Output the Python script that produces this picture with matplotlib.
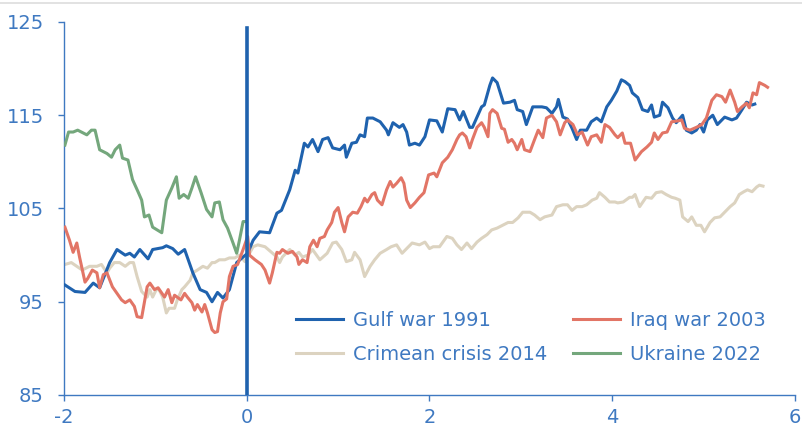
import matplotlib.pyplot as plt
import matplotlib.lines as mlines

# years relative to event, index level
gulf_x = [-1.99, -1.88, -1.77, -1.68, -1.61, -1.50, -1.42, -1.33, -1.28, -1.23, -1.17, -1.08, -1.03,
          -0.92, -0.88, -0.81, -0.75, -0.68, -0.59, -0.51, -0.44, -0.38, -0.32, -0.26, -0.19, -0.11,
          -0.04, 0.01, 0.07, 0.14, 0.25, 0.33, 0.38, 0.47, 0.53, 0.56, 0.63, 0.67, 0.72, 0.78, 0.83,
          0.89, 0.94, 1.02, 1.07, 1.09, 1.15, 1.20, 1.24, 1.29, 1.32, 1.38, 1.46, 1.53, 1.55, 1.60,
          1.67, 1.71, 1.75, 1.78, 1.84, 1.89, 1.95, 2.00, 2.08, 2.14, 2.20, 2.28, 2.33, 2.37, 2.44,
          2.47, 2.52, 2.57, 2.60, 2.66, 2.69, 2.74, 2.81, 2.88, 2.93, 2.96, 3.02, 3.06, 3.13, 3.23,
          3.28, 3.34, 3.39, 3.41, 3.46, 3.51, 3.56, 3.61, 3.65, 3.72, 3.77, 3.83, 3.88, 3.94, 3.99,
          4.05, 4.10, 4.14, 4.19, 4.22, 4.28, 4.33, 4.39, 4.43, 4.46, 4.52, 4.55, 4.61, 4.66, 4.70,
          4.77, 4.81, 4.87, 4.92, 4.96, 5.00, 5.04, 5.10, 5.15, 5.23, 5.31, 5.36, 5.42, 5.47, 5.53, 5.56]
gulf_y = [96.8, 96.1, 96.0, 97.0, 96.5, 99.2, 100.6, 100.0, 100.2, 99.8, 100.6, 99.6, 100.6,
          100.8, 101.0, 100.7, 100.1, 100.6, 98.1, 96.3, 96.0, 95.0, 96.0, 95.4, 96.3, 99.2,
          99.8, 100.2, 101.6, 102.5, 102.4, 104.5, 104.8, 107.0, 109.1, 108.8, 112.0, 111.6, 112.4, 111.1, 112.4,
          112.6, 111.5, 111.3, 111.8, 110.5, 112.0, 112.1, 112.9, 112.7, 114.7, 114.7, 114.3, 113.4, 112.9, 114.2,
          113.7, 114.0, 113.2, 111.8, 112.0, 111.8, 112.7, 114.5, 114.4, 113.2, 115.7, 115.6, 114.5, 115.4, 113.7,
          113.7, 114.8, 115.9, 116.1, 118.2, 119.0, 118.5, 116.3, 116.4, 116.6, 115.6, 115.4, 114.0, 115.9, 115.9,
          115.8, 115.2, 115.9, 116.7, 114.8, 114.6, 113.6, 112.4, 113.4, 113.4, 114.3, 114.7, 114.3, 115.9, 116.6,
          117.6, 118.8, 118.6, 118.2, 117.4, 116.9, 115.6, 115.4, 116.1, 114.8, 115.0, 116.4, 115.8, 114.7, 114.2,
          115.0, 113.4, 113.1, 113.4, 114.0, 113.2, 114.5, 115.0, 114.0, 114.8, 114.5, 114.7, 115.6, 116.4, 116.1, 116.2]

iraq_x = [-1.99, -1.94, -1.90, -1.86, -1.83, -1.77, -1.74, -1.69, -1.64, -1.61, -1.57, -1.53, -1.47,
          -1.42, -1.37, -1.33, -1.28, -1.23, -1.20, -1.15, -1.09, -1.06, -1.01, -0.97, -0.90, -0.86,
          -0.82, -0.79, -0.72, -0.68, -0.65, -0.60, -0.57, -0.54, -0.49, -0.46, -0.43, -0.38, -0.35,
          -0.32, -0.29, -0.26, -0.22, -0.19, -0.15, -0.10, -0.04, 0.01, 0.03, 0.09, 0.16, 0.20, 0.25,
          0.28, 0.33, 0.36, 0.39, 0.45, 0.50, 0.55, 0.57, 0.61, 0.66, 0.69, 0.73, 0.77, 0.80, 0.85,
          0.88, 0.93, 0.96, 1.00, 1.04, 1.07, 1.11, 1.16, 1.21, 1.25, 1.29, 1.32, 1.37, 1.40, 1.43,
          1.48, 1.53, 1.57, 1.60, 1.64, 1.69, 1.72, 1.75, 1.79, 1.84, 1.89, 1.94, 1.99, 2.05, 2.08,
          2.14, 2.20, 2.25, 2.30, 2.33, 2.36, 2.40, 2.44, 2.47, 2.52, 2.57, 2.60, 2.64, 2.66, 2.69,
          2.74, 2.79, 2.82, 2.86, 2.90, 2.93, 2.96, 3.01, 3.04, 3.10, 3.15, 3.19, 3.24, 3.28, 3.34,
          3.39, 3.43, 3.48, 3.51, 3.57, 3.62, 3.67, 3.73, 3.77, 3.83, 3.88, 3.92, 3.97, 4.03, 4.06,
          4.11, 4.14, 4.20, 4.25, 4.32, 4.38, 4.43, 4.46, 4.50, 4.55, 4.60, 4.65, 4.72, 4.76, 4.79,
          4.85, 4.92, 4.98, 5.03, 5.09, 5.14, 5.20, 5.24, 5.29, 5.34, 5.37, 5.42, 5.47, 5.50, 5.54,
          5.58, 5.61, 5.67, 5.70]
iraq_y = [103.0, 101.6, 100.3, 101.3, 99.8, 97.1, 97.5, 98.4, 98.1, 96.5, 97.9, 98.1, 96.6,
          95.9, 95.2, 94.9, 95.2, 94.5, 93.4, 93.3, 96.6, 97.0, 96.3, 96.5, 95.5, 96.3,
          94.9, 95.7, 95.2, 95.9, 95.5, 94.9, 94.1, 94.7, 93.9, 94.7, 93.8, 92.0, 91.7,
          91.8, 93.8, 95.0, 95.3, 97.7, 98.8, 99.0, 100.6, 102.0, 100.0, 99.5, 99.0, 98.4, 97.0,
          98.1, 100.3, 100.2, 100.6, 100.2, 100.4, 99.8, 99.0, 99.5, 99.2, 100.9, 101.6, 100.9, 101.8, 102.0,
          102.7, 103.5, 104.6, 105.1, 103.5, 102.5, 104.1, 104.6, 104.5, 105.2, 106.1, 105.7, 106.5, 106.7, 105.9,
          105.4, 107.0, 107.9, 107.3, 107.7, 108.3, 107.7, 105.9, 105.1, 105.6, 106.2, 106.7, 108.6, 108.8, 108.4,
          109.9, 110.5, 111.3, 112.4, 112.9, 113.1, 112.7, 111.5, 112.4, 113.7, 114.2, 113.7, 112.7, 115.2, 115.6,
          115.2, 113.6, 113.5, 112.1, 112.4, 112.0, 111.3, 112.4, 111.3, 111.1, 112.4, 113.4, 112.6, 114.7, 115.0,
          114.3, 112.9, 114.2, 114.5, 114.0, 112.9, 113.2, 111.8, 112.7, 112.9, 112.1, 114.0, 113.7, 112.9, 112.6,
          113.1, 112.0, 112.0, 110.2, 111.1, 111.6, 112.1, 113.1, 112.4, 113.1, 113.2, 114.3, 114.4, 114.5, 113.6,
          113.4, 113.7, 114.0, 114.7, 116.6, 117.2, 117.0, 116.4, 117.7, 116.4, 115.4, 115.9, 116.3, 115.8, 117.4,
          117.2, 118.5, 118.2, 118.0]

crimea_x = [-1.99, -1.92, -1.86, -1.80, -1.72, -1.64, -1.59, -1.53, -1.50, -1.45, -1.39, -1.33, -1.28,
            -1.24, -1.20, -1.15, -1.09, -1.06, -1.03, -0.99, -0.96, -0.92, -0.88, -0.85, -0.79, -0.76,
            -0.71, -0.68, -0.62, -0.59, -0.54, -0.48, -0.43, -0.38, -0.35, -0.30, -0.24, -0.19, -0.13,
            -0.08, -0.02, 0.07, 0.12, 0.20, 0.27, 0.33, 0.36, 0.39, 0.47, 0.53, 0.57, 0.61, 0.67, 0.72,
            0.80, 0.88, 0.94, 0.98, 1.04, 1.09, 1.15, 1.18, 1.24, 1.29, 1.35, 1.40, 1.46, 1.53, 1.58,
            1.64, 1.70, 1.75, 1.81, 1.89, 1.95, 2.00, 2.04, 2.11, 2.19, 2.25, 2.30, 2.35, 2.41, 2.46,
            2.52, 2.57, 2.63, 2.68, 2.74, 2.80, 2.86, 2.91, 2.97, 3.02, 3.10, 3.15, 3.21, 3.26, 3.34,
            3.39, 3.46, 3.51, 3.56, 3.61, 3.67, 3.72, 3.78, 3.83, 3.86, 3.92, 3.97, 4.03, 4.06, 4.12,
            4.19, 4.22, 4.25, 4.30, 4.37, 4.43, 4.48, 4.54, 4.59, 4.65, 4.69, 4.74, 4.77, 4.83, 4.87,
            4.92, 4.97, 5.01, 5.07, 5.12, 5.18, 5.23, 5.29, 5.34, 5.39, 5.44, 5.48, 5.53, 5.58, 5.61, 5.65]
crimea_y = [99.0, 99.2, 98.8, 98.4, 98.8, 98.8, 99.0, 98.1, 98.6, 99.2, 99.2, 98.8, 99.2,
            99.2, 97.7, 96.1, 95.5, 96.3, 95.5, 96.3, 96.3, 95.5, 93.8, 94.3, 94.3, 95.2,
            96.3, 96.6, 97.3, 98.1, 98.4, 98.8, 98.6, 99.2, 99.2, 99.5, 99.5, 99.7, 99.7,
            100.0, 99.3, 100.9, 101.1, 100.9, 100.3, 99.8, 99.2, 99.8, 100.6, 100.0, 100.3, 99.8, 100.0, 100.6,
            99.5, 100.2, 101.3, 101.4, 100.6, 99.3, 99.5, 100.3, 99.5, 97.7, 98.8, 99.5, 100.2, 100.6, 100.9,
            101.1, 100.2, 100.7, 101.3, 101.1, 101.4, 100.7, 100.9, 100.9, 102.0, 101.8, 101.1, 100.6, 101.3, 100.7,
            101.4, 101.8, 102.2, 102.7, 102.9, 103.2, 103.5, 103.5, 104.0, 104.6, 104.6, 104.3, 103.8, 104.1, 104.3,
            105.2, 105.4, 105.4, 104.8, 105.2, 105.2, 105.4, 105.9, 106.1, 106.7, 106.2, 105.7, 105.7, 105.6, 105.7,
            106.2, 106.2, 106.5, 105.2, 106.2, 106.1, 106.7, 106.8, 106.5, 106.2, 106.1, 105.9, 104.1, 103.6, 104.1,
            103.2, 103.2, 102.5, 103.5, 104.0, 104.1, 104.6, 105.2, 105.6, 106.5, 106.8, 107.0, 106.8, 107.3, 107.5, 107.4]

ukraine_x = [-1.99, -1.95, -1.90, -1.85, -1.79, -1.75, -1.70, -1.66, -1.61, -1.53, -1.48, -1.44, -1.39,
             -1.36, -1.30, -1.25, -1.19, -1.15, -1.12, -1.07, -1.03, -0.98, -0.93, -0.88, -0.82, -0.77,
             -0.74, -0.69, -0.64, -0.60, -0.56, -0.50, -0.44, -0.38, -0.35, -0.30, -0.26, -0.21, -0.15,
             -0.11, -0.08, -0.04, -0.01]
ukraine_y = [111.8, 113.2, 113.2, 113.4, 113.1, 112.9, 113.4, 113.4, 111.3, 110.9, 110.5, 111.3, 111.8,
             110.4, 110.2, 108.1, 106.8, 105.9, 104.1, 104.3, 103.0, 102.7, 102.4, 105.9, 107.2, 108.4,
             106.1, 106.5, 106.1, 107.2, 108.4, 106.7, 104.9, 104.1, 105.6, 105.7, 103.8, 102.9, 101.3,
             100.2, 101.6, 103.6, 103.6]

event_x = 0
labels = ["Gulf war 1991", "Iraq war 2003", "Crimean crisis 2014", "Ukraine 2022"]
xticks = [-2, 0, 2, 4, 6]
yticks = [85, 95, 105, 115, 125]

c_gulf = "#1f62ae"
c_iraq = "#e27566"
c_crimea = "#dcd3c0"
c_ukraine = "#74a77c"
c_axis = "#3f79c1"

plt.rcParams['font.family'] = ['DejaVu Sans']
plt.rcParams['axes.unicode_minus'] = False

fig = plt.figure(figsize=(8.03, 4.34), dpi=100)
ax = fig.add_axes([64/803, 1 - 395/434, (795 - 64)/803, (395 - 22)/434])

lw = 2.2
l_gulf, = ax.plot(gulf_x, gulf_y, color=c_gulf, lw=lw, label=labels[0], zorder=3)
l_crimea, = ax.plot(crimea_x, crimea_y, color=c_crimea, lw=lw, label=labels[2], zorder=2)
l_iraq, = ax.plot(iraq_x, iraq_y, color=c_iraq, lw=lw, label=labels[1], zorder=4)
l_ukr, = ax.plot(ukraine_x, ukraine_y, color=c_ukraine, lw=lw, label=labels[3], zorder=4)
ax.axvline(event_x, ymin=0, ymax=0.985, color=c_gulf, lw=2.6, zorder=5)

ax.set_xlim(-2, 6)
ax.set_ylim(85, 125)
ax.set_xticks(xticks)
ax.set_yticks(yticks)
ax.spines['top'].set_visible(False)
ax.spines['right'].set_visible(False)
for s in ['left', 'bottom']:
    ax.spines[s].set_color(c_axis)
    ax.spines[s].set_linewidth(1.0)
ax.tick_params(axis='both', colors=c_axis, labelcolor=c_axis, labelsize=14,
               length=4.5, width=1.0, direction='out')
ax.tick_params(axis='y', pad=10)
ax.tick_params(axis='x', pad=5)

# matplotlib fills legend columns first
leg = fig.legend(handles=[l_gulf, l_crimea, l_iraq, l_ukr], ncol=2, frameon=False,
                 loc='upper left', bbox_to_anchor=(296/803, 1 - 311/434),
                 borderpad=0, borderaxespad=0, fontsize=14, handlelength=2.42,
                 handletextpad=0.5, columnspacing=1.35, labelspacing=0.75)
for t in leg.get_texts():
    t.set_color(c_axis)

# thin grey rule along the top
fig.add_artist(mlines.Line2D([0, 1], [1 - 3/434, 1 - 3/434], color="#dddddd", lw=1.2))

fig.savefig("out.png", dpi=100)
